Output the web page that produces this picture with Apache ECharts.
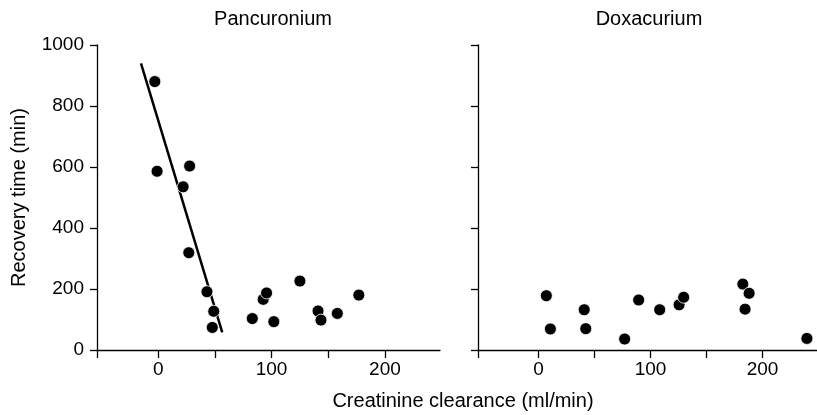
<!DOCTYPE html>
<html>
<head>
<meta charset="utf-8">
<style>html,body{margin:0;padding:0;background:#fff;}#c{width:817px;height:415px;}</style>
<script src="https://cdn.jsdelivr.net/npm/echarts@6/dist/echarts.min.js"></script>
</head>
<body>
<div id="c"></div>
<script>
const panelTitles = ['Pancuronium', 'Doxacurium'];
const yTicks = [0, 200, 400, 600, 800, 1000];
const xTickValues = [-54, 0, 50, 100, 150, 200];
const xLabelValues = [0, 100, 200];
const pancX = [-3, -1, 27.7, 22, 27, 43, 49, 47.7, 83, 92.6, 95.6, 102, 125, 141, 143.6, 158, 177];
const pancY = [880, 586, 603, 535, 319, 191, 127, 74, 103, 166, 187, 93, 226, 128, 98, 120, 180];
const doxX = [7, 10.6, 40.8, 42.2, 76.9, 89.4, 108.2, 125.5, 129.6, 182.4, 188, 184.4, 239.6];
const doxY = [178, 69, 132, 70, 36, 164, 132, 148, 173, 216, 186, 134, 38];
const fitX = [-15.2, 56.5];
const fitY = [940, 58];

const FONT = '"Liberation Sans", Arial, Helvetica, sans-serif';
const zip = (a, b) => a.map((v, i) => [v, b[i]]);

const chart = echarts.init(document.getElementById('c'), null, {renderer: 'canvas'});
const axisLine = {show: true, onZero: false, lineStyle: {color: '#000', width: 1.3}};
function xAxis(i) {
  return {
    type: 'value', gridIndex: i, min: -54, max: 248.6,
    axisLine: axisLine,
    axisTick: {show: true, length: 8, lineStyle: {color: '#000', width: 1.3}, customValues: xTickValues},
    axisLabel: {color: '#000', fontSize: 19, fontFamily: FONT, margin: 10, customValues: xLabelValues, formatter: v => String(v)},
    splitLine: {show: false}
  };
}
function yAxis(i) {
  return {
    type: 'value', gridIndex: i, min: 0, max: 1000, interval: 200,
    axisLine: axisLine,
    axisTick: {show: true, length: 7, lineStyle: {color: '#000', width: 1.3}, customValues: yTicks},
    axisLabel: {show: i === 0, color: '#000', fontSize: 19, fontFamily: FONT, margin: 13, customValues: yTicks, formatter: v => String(v)},
    splitLine: {show: false},
    name: i === 0 ? 'Recovery time (min)' : '',
    nameLocation: 'middle', nameGap: 68,
    nameTextStyle: {color: '#000', fontSize: 20, fontFamily: FONT}
  };
}
const dot = {symbol: 'circle', symbolSize: 12, itemStyle: {color: '#000', opacity: 1, borderColor: '#fff', borderWidth: 0.8}};
chart.setOption({
  animation: false,
  backgroundColor: '#fff',
  title: [
    {text: panelTitles[0], left: 268, top: 4, textAlign: 'center', textStyle: {fontSize: 20, fontWeight: 'normal', color: '#000', fontFamily: FONT}},
    {text: panelTitles[1], left: 644, top: 4, textAlign: 'center', textStyle: {fontSize: 20, fontWeight: 'normal', color: '#000', fontFamily: FONT}},
    {text: 'Creatinine clearance (ml/min)', left: 458, top: 386, textAlign: 'center', textStyle: {fontSize: 20, fontWeight: 'normal', color: '#000', fontFamily: FONT}}
  ],
  grid: [
    {left: 97, top: 45, width: 343, height: 305},
    {left: 478, top: 45, width: 343, height: 305}
  ],
  xAxis: [xAxis(0), xAxis(1)],
  yAxis: [yAxis(0), yAxis(1)],
  series: [
    {type: 'line', xAxisIndex: 0, yAxisIndex: 0, data: zip(fitX, fitY), symbol: 'none', lineStyle: {color: '#000', width: 2.5}, z: 1},
    Object.assign({type: 'scatter', xAxisIndex: 0, yAxisIndex: 0, data: zip(pancX, pancY), z: 3}, dot),
    Object.assign({type: 'scatter', xAxisIndex: 1, yAxisIndex: 1, data: zip(doxX, doxY), z: 3}, dot)
  ]
});
</script>
</body>
</html>
